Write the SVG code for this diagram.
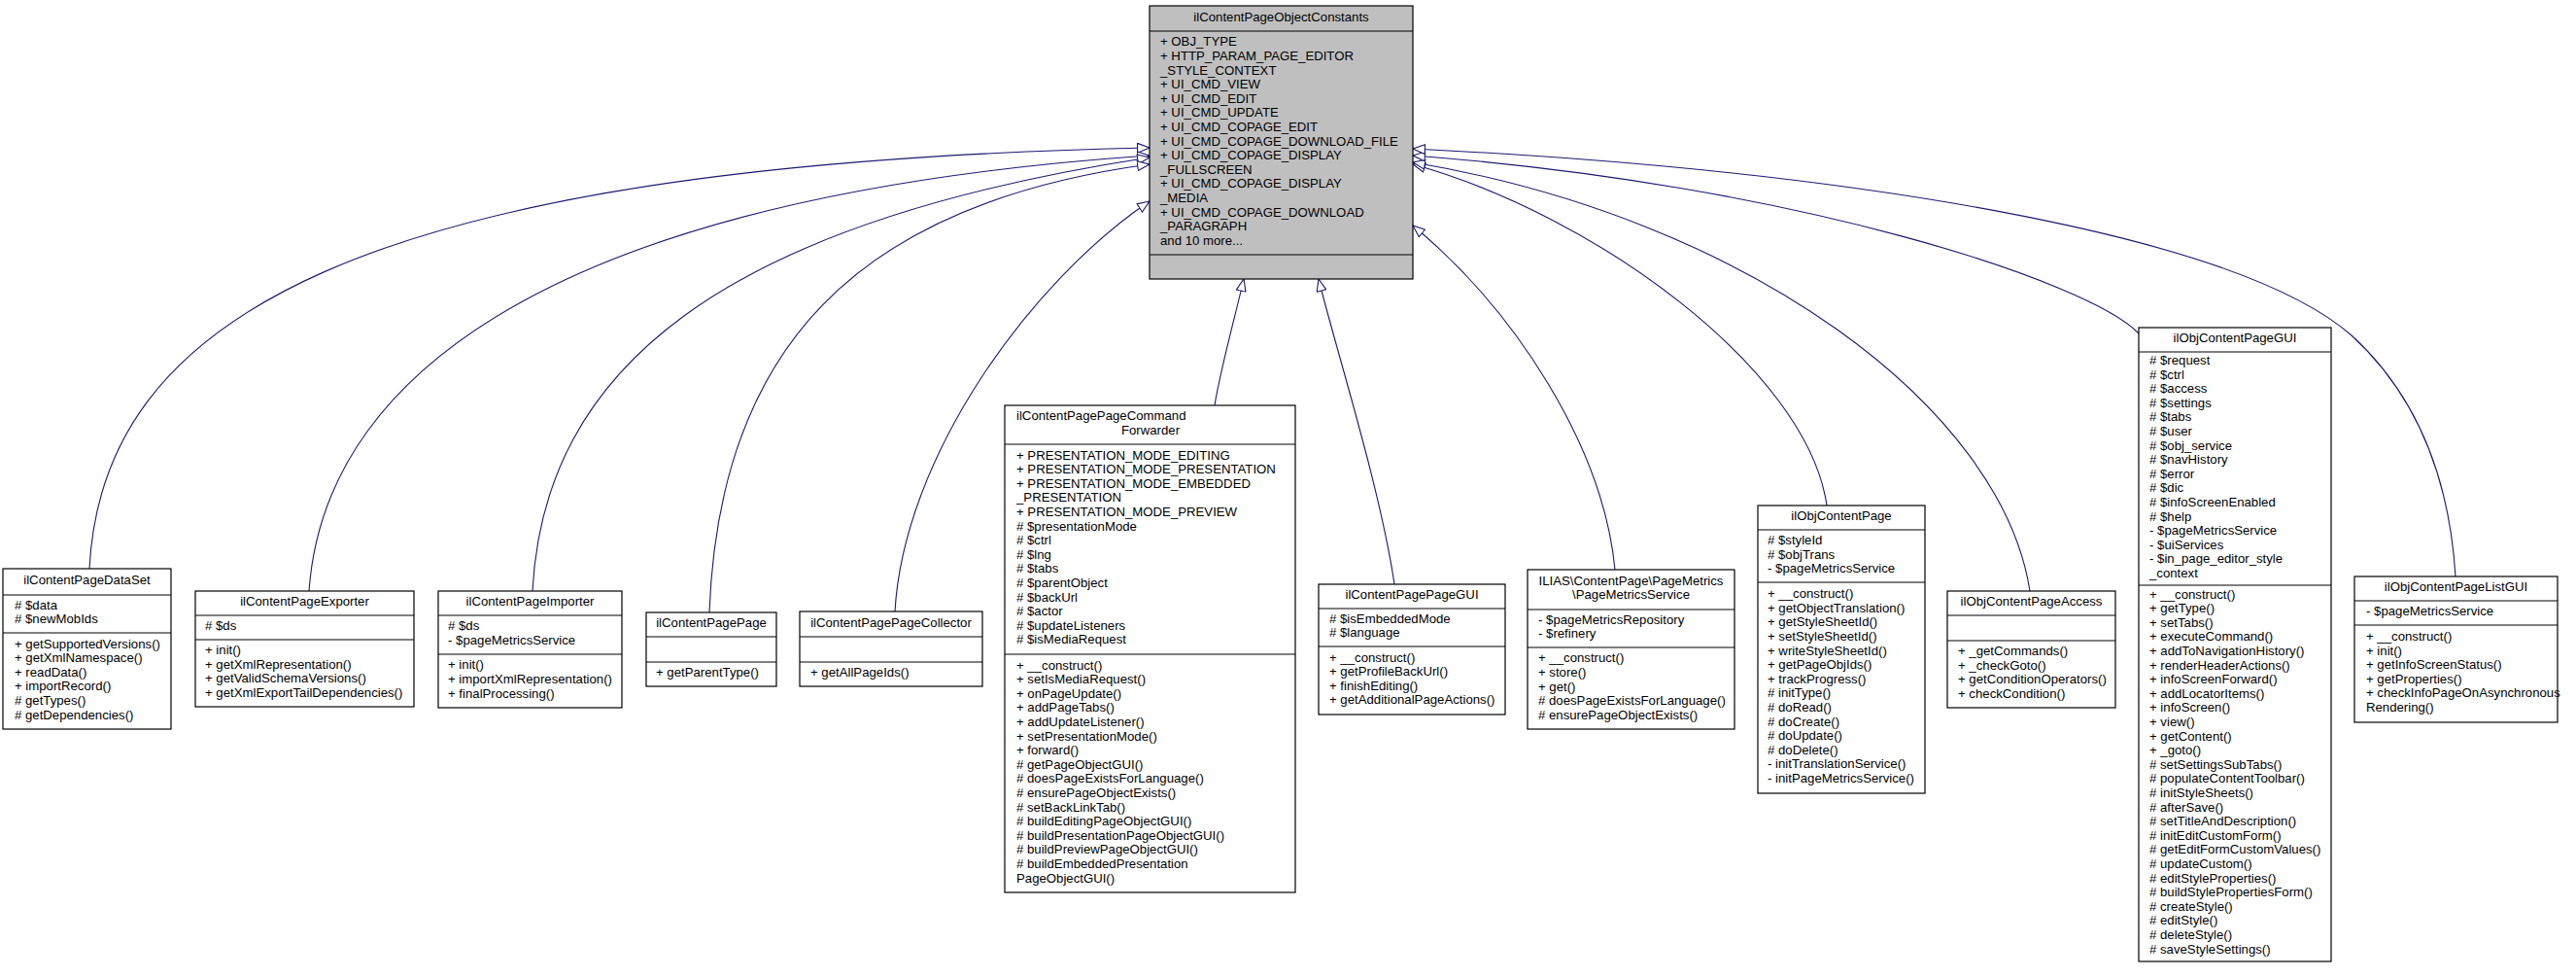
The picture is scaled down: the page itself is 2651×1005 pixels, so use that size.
<svg xmlns="http://www.w3.org/2000/svg" width="2651" height="1005" viewBox="0 0 2651 1005">
<style>
.box{fill:#ffffff;stroke:#000000;stroke-width:1.2}
.gray{fill:#bfbfbf}
.sep{stroke:#000000;stroke-width:1.2}
.t{font-family:"Liberation Sans",Arial,Helvetica,sans-serif;font-size:13.2px;fill:#000000}
.c{text-anchor:middle}
.edge{fill:none;stroke:#191970;stroke-width:1.1;marker-end:url(#arr)}
</style>
<defs>
<marker id="arr" markerUnits="userSpaceOnUse" viewBox="0 0 14 11" markerWidth="14" markerHeight="11" refX="13" refY="5.5" orient="auto">
<path d="M0.6,0.6 L13,5.5 L0.6,10.4 Z" fill="#ffffff" stroke="#191970" stroke-width="1.1"/>
</marker>
</defs>
<rect width="2651" height="1005" fill="#ffffff"/>

<g id="edges">
<path class="edge" d="M92,585 C105,330 360,170 1183,152"/>
<path class="edge" d="M318,608 C335,370 600,200 1183,160"/>
<path class="edge" d="M548,608 C560,380 740,230 1183,162"/>
<path class="edge" d="M730,630 C740,360 880,210 1183,169"/>
<path class="edge" d="M921,629 C930,470 1060,290 1183,207"/>
<path class="edge" d="M1250,417 C1256,380 1270,330 1280,287"/>
<path class="edge" d="M1435,601 C1420,500 1375,360 1357,287"/>
<path class="edge" d="M1662,586 C1650,460 1560,320 1454,232"/>
<path class="edge" d="M1880,520 C1860,380 1640,220 1454,169"/>
<path class="edge" d="M2089,608 C2060,420 1800,225 1454,167"/>
<path class="edge" d="M2201,343 C2150,290 1850,190 1454,160"/>
<path class="edge" d="M2527,593 C2520,480 2480,400 2420,345 C2300,240 1900,175 1454,153"/>
</g>

<g id="ilContentPageObjectConstants">
<rect class="box gray" x="1183" y="6" width="271" height="281"/>
<line class="sep" x1="1183" y1="32" x2="1454" y2="32"/>
<line class="sep" x1="1183" y1="262" x2="1454" y2="262"/>
<text class="t c" x="1318.5" y="21.5">ilContentPageObjectConstants</text>
<text class="t" x="1194" y="47.3"><tspan x="1194">+ OBJ_TYPE</tspan><tspan x="1194" dy="14.6">+ HTTP_PARAM_PAGE_EDITOR</tspan><tspan x="1194" dy="14.6">_STYLE_CONTEXT</tspan><tspan x="1194" dy="14.6">+ UI_CMD_VIEW</tspan><tspan x="1194" dy="14.6">+ UI_CMD_EDIT</tspan><tspan x="1194" dy="14.6">+ UI_CMD_UPDATE</tspan><tspan x="1194" dy="14.6">+ UI_CMD_COPAGE_EDIT</tspan><tspan x="1194" dy="14.6">+ UI_CMD_COPAGE_DOWNLOAD_FILE</tspan><tspan x="1194" dy="14.6">+ UI_CMD_COPAGE_DISPLAY</tspan><tspan x="1194" dy="14.6">_FULLSCREEN</tspan><tspan x="1194" dy="14.6">+ UI_CMD_COPAGE_DISPLAY</tspan><tspan x="1194" dy="14.6">_MEDIA</tspan><tspan x="1194" dy="14.6">+ UI_CMD_COPAGE_DOWNLOAD</tspan><tspan x="1194" dy="14.6">_PARAGRAPH</tspan><tspan x="1194" dy="14.6">and 10 more...</tspan></text>
</g>

<g id="ilContentPageDataSet">
<rect class="box" x="3" y="585" width="173" height="165"/>
<line class="sep" x1="3" y1="612" x2="176" y2="612"/>
<line class="sep" x1="3" y1="651" x2="176" y2="651"/>
<text class="t c" x="89.5" y="601">ilContentPageDataSet</text>
<text class="t" x="15" y="626.7"><tspan x="15"># $data</tspan><tspan x="15" dy="14.6"># $newMobIds</tspan></text>
<text class="t" x="15" y="666.5"><tspan x="15">+ getSupportedVersions()</tspan><tspan x="15" dy="14.6">+ getXmlNamespace()</tspan><tspan x="15" dy="14.6">+ readData()</tspan><tspan x="15" dy="14.6">+ importRecord()</tspan><tspan x="15" dy="14.6"># getTypes()</tspan><tspan x="15" dy="14.6"># getDependencies()</tspan></text>
</g>

<g id="ilContentPageExporter">
<rect class="box" x="201" y="608" width="225" height="119"/>
<line class="sep" x1="201" y1="633" x2="426" y2="633"/>
<line class="sep" x1="201" y1="658" x2="426" y2="658"/>
<text class="t c" x="313.5" y="623">ilContentPageExporter</text>
<text class="t" x="211" y="648"># $ds</text>
<text class="t" x="211" y="673.1"><tspan x="211">+ init()</tspan><tspan x="211" dy="14.6">+ getXmlRepresentation()</tspan><tspan x="211" dy="14.6">+ getValidSchemaVersions()</tspan><tspan x="211" dy="14.6">+ getXmlExportTailDependencies()</tspan></text>
</g>

<g id="ilContentPageImporter">
<rect class="box" x="451" y="608" width="189" height="120"/>
<line class="sep" x1="451" y1="633" x2="640" y2="633"/>
<line class="sep" x1="451" y1="673" x2="640" y2="673"/>
<text class="t c" x="545.5" y="623">ilContentPageImporter</text>
<text class="t" x="461" y="648.2"><tspan x="461"># $ds</tspan><tspan x="461" dy="14.6">- $pageMetricsService</tspan></text>
<text class="t" x="461" y="688.4"><tspan x="461">+ init()</tspan><tspan x="461" dy="14.6">+ importXmlRepresentation()</tspan><tspan x="461" dy="14.6">+ finalProcessing()</tspan></text>
</g>

<g id="ilContentPagePage">
<rect class="box" x="665" y="630" width="134" height="76"/>
<line class="sep" x1="665" y1="655" x2="799" y2="655"/>
<line class="sep" x1="665" y1="681" x2="799" y2="681"/>
<text class="t c" x="732" y="645">ilContentPagePage</text>
<text class="t" x="675" y="696">+ getParentType()</text>
</g>

<g id="ilContentPagePageCollector">
<rect class="box" x="823" y="629" width="188" height="77"/>
<line class="sep" x1="823" y1="655" x2="1011" y2="655"/>
<line class="sep" x1="823" y1="681" x2="1011" y2="681"/>
<text class="t c" x="917" y="644.5">ilContentPagePageCollector</text>
<text class="t" x="834" y="696">+ getAllPageIds()</text>
</g>

<g id="ilContentPagePageCommandForwarder">
<rect class="box" x="1034" y="417" width="299" height="501"/>
<line class="sep" x1="1034" y1="457" x2="1333" y2="457"/>
<line class="sep" x1="1034" y1="673" x2="1333" y2="673"/>
<text class="t" x="1046" y="432.2">ilContentPagePageCommand</text>
<text class="t c" x="1184" y="446.8">Forwarder</text>
<text class="t" x="1046" y="472.6"><tspan x="1046">+ PRESENTATION_MODE_EDITING</tspan><tspan x="1046" dy="14.6">+ PRESENTATION_MODE_PRESENTATION</tspan><tspan x="1046" dy="14.6">+ PRESENTATION_MODE_EMBEDDED</tspan><tspan x="1046" dy="14.6">_PRESENTATION</tspan><tspan x="1046" dy="14.6">+ PRESENTATION_MODE_PREVIEW</tspan><tspan x="1046" dy="14.6"># $presentationMode</tspan><tspan x="1046" dy="14.6"># $ctrl</tspan><tspan x="1046" dy="14.6"># $lng</tspan><tspan x="1046" dy="14.6"># $tabs</tspan><tspan x="1046" dy="14.6"># $parentObject</tspan><tspan x="1046" dy="14.6"># $backUrl</tspan><tspan x="1046" dy="14.6"># $actor</tspan><tspan x="1046" dy="14.6"># $updateListeners</tspan><tspan x="1046" dy="14.6"># $isMediaRequest</tspan></text>
<text class="t" x="1046" y="688.5"><tspan x="1046">+ __construct()</tspan><tspan x="1046" dy="14.6">+ setIsMediaRequest()</tspan><tspan x="1046" dy="14.6">+ onPageUpdate()</tspan><tspan x="1046" dy="14.6">+ addPageTabs()</tspan><tspan x="1046" dy="14.6">+ addUpdateListener()</tspan><tspan x="1046" dy="14.6">+ setPresentationMode()</tspan><tspan x="1046" dy="14.6">+ forward()</tspan><tspan x="1046" dy="14.6"># getPageObjectGUI()</tspan><tspan x="1046" dy="14.6"># doesPageExistsForLanguage()</tspan><tspan x="1046" dy="14.6"># ensurePageObjectExists()</tspan><tspan x="1046" dy="14.6"># setBackLinkTab()</tspan><tspan x="1046" dy="14.6"># buildEditingPageObjectGUI()</tspan><tspan x="1046" dy="14.6"># buildPresentationPageObjectGUI()</tspan><tspan x="1046" dy="14.6"># buildPreviewPageObjectGUI()</tspan><tspan x="1046" dy="14.6"># buildEmbeddedPresentation</tspan><tspan x="1046" dy="14.6">PageObjectGUI()</tspan></text>
</g>

<g id="ilContentPagePageGUI">
<rect class="box" x="1357" y="601" width="192" height="134"/>
<line class="sep" x1="1357" y1="626" x2="1549" y2="626"/>
<line class="sep" x1="1357" y1="665" x2="1549" y2="665"/>
<text class="t c" x="1453" y="616">ilContentPagePageGUI</text>
<text class="t" x="1368" y="640.7"><tspan x="1368"># $isEmbeddedMode</tspan><tspan x="1368" dy="14.6"># $language</tspan></text>
<text class="t" x="1368" y="680.6"><tspan x="1368">+ __construct()</tspan><tspan x="1368" dy="14.6">+ getProfileBackUrl()</tspan><tspan x="1368" dy="14.6">+ finishEditing()</tspan><tspan x="1368" dy="14.6">+ getAdditionalPageActions()</tspan></text>
</g>

<g id="PageMetricsService">
<rect class="box" x="1572" y="586" width="213" height="164"/>
<line class="sep" x1="1572" y1="627" x2="1785" y2="627"/>
<line class="sep" x1="1572" y1="666" x2="1785" y2="666"/>
<text class="t c" x="1678.5" y="601.7">ILIAS\ContentPage\PageMetrics</text>
<text class="t c" x="1678.5" y="616.3">\PageMetricsService</text>
<text class="t" x="1583" y="641.7"><tspan x="1583">- $pageMetricsRepository</tspan><tspan x="1583" dy="14.6">- $refinery</tspan></text>
<text class="t" x="1583" y="681.3"><tspan x="1583">+ __construct()</tspan><tspan x="1583" dy="14.6">+ store()</tspan><tspan x="1583" dy="14.6">+ get()</tspan><tspan x="1583" dy="14.6"># doesPageExistsForLanguage()</tspan><tspan x="1583" dy="14.6"># ensurePageObjectExists()</tspan></text>
</g>

<g id="ilObjContentPage">
<rect class="box" x="1809" y="520" width="172" height="296"/>
<line class="sep" x1="1809" y1="545" x2="1981" y2="545"/>
<line class="sep" x1="1809" y1="599" x2="1981" y2="599"/>
<text class="t c" x="1895" y="535">ilObjContentPage</text>
<text class="t" x="1819" y="559.9"><tspan x="1819"># $styleId</tspan><tspan x="1819" dy="14.6"># $objTrans</tspan><tspan x="1819" dy="14.6">- $pageMetricsService</tspan></text>
<text class="t" x="1819" y="615.1"><tspan x="1819">+ __construct()</tspan><tspan x="1819" dy="14.6">+ getObjectTranslation()</tspan><tspan x="1819" dy="14.6">+ getStyleSheetId()</tspan><tspan x="1819" dy="14.6">+ setStyleSheetId()</tspan><tspan x="1819" dy="14.6">+ writeStyleSheetId()</tspan><tspan x="1819" dy="14.6">+ getPageObjIds()</tspan><tspan x="1819" dy="14.6">+ trackProgress()</tspan><tspan x="1819" dy="14.6"># initType()</tspan><tspan x="1819" dy="14.6"># doRead()</tspan><tspan x="1819" dy="14.6"># doCreate()</tspan><tspan x="1819" dy="14.6"># doUpdate()</tspan><tspan x="1819" dy="14.6"># doDelete()</tspan><tspan x="1819" dy="14.6">- initTranslationService()</tspan><tspan x="1819" dy="14.6">- initPageMetricsService()</tspan></text>
</g>

<g id="ilObjContentPageAccess">
<rect class="box" x="2004" y="608" width="173" height="120"/>
<line class="sep" x1="2004" y1="633" x2="2177" y2="633"/>
<line class="sep" x1="2004" y1="659" x2="2177" y2="659"/>
<text class="t c" x="2090.5" y="623">ilObjContentPageAccess</text>
<text class="t" x="2015" y="674.1"><tspan x="2015">+ _getCommands()</tspan><tspan x="2015" dy="14.6">+ _checkGoto()</tspan><tspan x="2015" dy="14.6">+ getConditionOperators()</tspan><tspan x="2015" dy="14.6">+ checkCondition()</tspan></text>
</g>

<g id="ilObjContentPageGUI">
<rect class="box" x="2201" y="337" width="198" height="652"/>
<line class="sep" x1="2201" y1="362" x2="2399" y2="362"/>
<line class="sep" x1="2201" y1="602" x2="2399" y2="602"/>
<text class="t c" x="2300" y="352">ilObjContentPageGUI</text>
<text class="t" x="2212" y="375"><tspan x="2212"># $request</tspan><tspan x="2212" dy="14.6"># $ctrl</tspan><tspan x="2212" dy="14.6"># $access</tspan><tspan x="2212" dy="14.6"># $settings</tspan><tspan x="2212" dy="14.6"># $tabs</tspan><tspan x="2212" dy="14.6"># $user</tspan><tspan x="2212" dy="14.6"># $obj_service</tspan><tspan x="2212" dy="14.6"># $navHistory</tspan><tspan x="2212" dy="14.6"># $error</tspan><tspan x="2212" dy="14.6"># $dic</tspan><tspan x="2212" dy="14.6"># $infoScreenEnabled</tspan><tspan x="2212" dy="14.6"># $help</tspan><tspan x="2212" dy="14.6">- $pageMetricsService</tspan><tspan x="2212" dy="14.6">- $uiServices</tspan><tspan x="2212" dy="14.6">- $in_page_editor_style</tspan><tspan x="2212" dy="14.6">_context</tspan></text>
<text class="t" x="2212" y="615.5"><tspan x="2212">+ __construct()</tspan><tspan x="2212" dy="14.6">+ getType()</tspan><tspan x="2212" dy="14.6">+ setTabs()</tspan><tspan x="2212" dy="14.6">+ executeCommand()</tspan><tspan x="2212" dy="14.6">+ addToNavigationHistory()</tspan><tspan x="2212" dy="14.6">+ renderHeaderActions()</tspan><tspan x="2212" dy="14.6">+ infoScreenForward()</tspan><tspan x="2212" dy="14.6">+ addLocatorItems()</tspan><tspan x="2212" dy="14.6">+ infoScreen()</tspan><tspan x="2212" dy="14.6">+ view()</tspan><tspan x="2212" dy="14.6">+ getContent()</tspan><tspan x="2212" dy="14.6">+ _goto()</tspan><tspan x="2212" dy="14.6"># setSettingsSubTabs()</tspan><tspan x="2212" dy="14.6"># populateContentToolbar()</tspan><tspan x="2212" dy="14.6"># initStyleSheets()</tspan><tspan x="2212" dy="14.6"># afterSave()</tspan><tspan x="2212" dy="14.6"># setTitleAndDescription()</tspan><tspan x="2212" dy="14.6"># initEditCustomForm()</tspan><tspan x="2212" dy="14.6"># getEditFormCustomValues()</tspan><tspan x="2212" dy="14.6"># updateCustom()</tspan><tspan x="2212" dy="14.6"># editStyleProperties()</tspan><tspan x="2212" dy="14.6"># buildStylePropertiesForm()</tspan><tspan x="2212" dy="14.6"># createStyle()</tspan><tspan x="2212" dy="14.6"># editStyle()</tspan><tspan x="2212" dy="14.6"># deleteStyle()</tspan><tspan x="2212" dy="14.6"># saveStyleSettings()</tspan></text>
</g>

<g id="ilObjContentPageListGUI">
<rect class="box" x="2423" y="593" width="209" height="150"/>
<line class="sep" x1="2423" y1="618" x2="2632" y2="618"/>
<line class="sep" x1="2423" y1="643" x2="2632" y2="643"/>
<text class="t c" x="2527.5" y="608">ilObjContentPageListGUI</text>
<text class="t" x="2435" y="633">- $pageMetricsService</text>
<text class="t" x="2435" y="659"><tspan x="2435">+ __construct()</tspan><tspan x="2435" dy="14.6">+ init()</tspan><tspan x="2435" dy="14.6">+ getInfoScreenStatus()</tspan><tspan x="2435" dy="14.6">+ getProperties()</tspan><tspan x="2435" dy="14.6">+ checkInfoPageOnAsynchronous</tspan><tspan x="2435" dy="14.6">Rendering()</tspan></text>
</g>
</svg>
